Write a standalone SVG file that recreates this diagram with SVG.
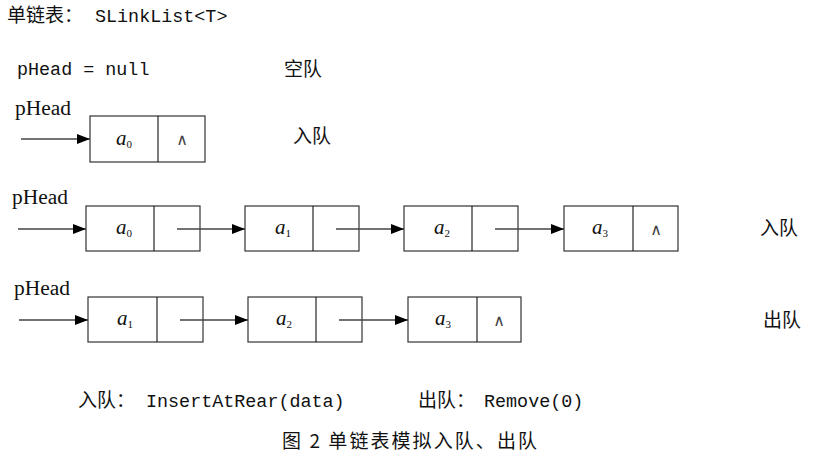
<svg xmlns="http://www.w3.org/2000/svg" width="840" height="459" viewBox="0 0 840 459">
<style>
.cjk{font-family:"Noto Sans CJK SC",sans-serif;font-size:19px;fill:#111}
.mono{font-family:"Liberation Mono","Noto Sans CJK SC",monospace;font-size:18.4px;fill:#111}
.ph{font-family:"Liberation Serif",serif;font-size:20px;fill:#111}
.box{fill:#fff;stroke:#333;stroke-width:1.2}
.div{stroke:#111;stroke-width:1.1}
.lbl{font-family:"Liberation Serif",serif;font-style:italic;font-size:21px;fill:#111}
.sub{font-size:11px;font-style:normal}
.nil{font-family:"DejaVu Sans",sans-serif;font-size:16px;fill:#444}
.conn{stroke:#444;stroke-width:1.4;fill:none}
</style>
<defs>
<marker id="ah" markerUnits="userSpaceOnUse" markerWidth="13" markerHeight="10" refX="13" refY="5" orient="auto">
<path d="M0,0 L13,5 L0,10 z" fill="#000"/>
</marker>
</defs>
<rect width="840" height="459" fill="#fff"/>

<g id="titles">
<text x="7" y="22"><tspan class="cjk">单链表：</tspan><tspan class="mono" x="95">SLinkList&lt;T&gt;</tspan></text>
<text class="mono" x="17" y="75">pHead = null</text>
<text class="cjk" x="284" y="76">空队</text>
<text class="cjk" x="293" y="143">入队</text>
<text class="cjk" x="760" y="235">入队</text>
<text class="cjk" x="763" y="327">出队</text>
<text x="78" y="407"><tspan class="cjk">入队：</tspan><tspan class="mono" x="146">InsertAtRear(data)</tspan></text>
<text x="418" y="407"><tspan class="cjk">出队：</tspan><tspan class="mono" x="484">Remove(0)</tspan></text>
<text class="cjk" x="282" y="448" font-size="18" textLength="255" lengthAdjust="spacing">图 2 单链表模拟入队、出队</text>
</g>

<g id="heads">
<text class="ph" x="15" y="115" textLength="56" lengthAdjust="spacingAndGlyphs">pHead</text>
<text class="ph" x="12" y="204" textLength="56" lengthAdjust="spacingAndGlyphs">pHead</text>
<text class="ph" x="14" y="295" textLength="56" lengthAdjust="spacingAndGlyphs">pHead</text>
</g>

<g id="row1-a0">
<rect class="box" x="90" y="116" width="115" height="46"/>
<line class="div" x1="158" y1="116" x2="158" y2="162"/>
<text class="lbl" x="124" y="145" text-anchor="middle">a<tspan class="sub" dy="3">0</tspan></text>
<text class="nil" x="182" y="145" text-anchor="middle">∧</text>
</g>

<g id="row2-a0">
<rect class="box" x="86" y="206" width="114" height="45"/>
<line class="div" x1="154" y1="206" x2="154" y2="251"/>
<text class="lbl" x="124" y="234" text-anchor="middle">a<tspan class="sub" dy="3">0</tspan></text>
</g>
<g id="row2-a1">
<rect class="box" x="245" y="206" width="114" height="45"/>
<line class="div" x1="313" y1="206" x2="313" y2="251"/>
<text class="lbl" x="283" y="234" text-anchor="middle">a<tspan class="sub" dy="3">1</tspan></text>
</g>
<g id="row2-a2">
<rect class="box" x="404" y="206" width="114" height="45"/>
<line class="div" x1="472" y1="206" x2="472" y2="251"/>
<text class="lbl" x="442" y="234" text-anchor="middle">a<tspan class="sub" dy="3">2</tspan></text>
</g>
<g id="row2-a3">
<rect class="box" x="564" y="206" width="114" height="45"/>
<line class="div" x1="633" y1="206" x2="633" y2="251"/>
<text class="lbl" x="600" y="234" text-anchor="middle">a<tspan class="sub" dy="3">3</tspan></text>
<text class="nil" x="656" y="235" text-anchor="middle">∧</text>
</g>

<g id="row3-a1">
<rect class="box" x="88" y="297" width="115" height="45"/>
<line class="div" x1="157" y1="297" x2="157" y2="342"/>
<text class="lbl" x="125" y="325" text-anchor="middle">a<tspan class="sub" dy="3">1</tspan></text>
</g>
<g id="row3-a2">
<rect class="box" x="248" y="297" width="114" height="45"/>
<line class="div" x1="316" y1="297" x2="316" y2="342"/>
<text class="lbl" x="284" y="325" text-anchor="middle">a<tspan class="sub" dy="3">2</tspan></text>
</g>
<g id="row3-a3">
<rect class="box" x="408" y="297" width="113" height="45"/>
<line class="div" x1="477" y1="297" x2="477" y2="342"/>
<text class="lbl" x="443" y="325" text-anchor="middle">a<tspan class="sub" dy="3">3</tspan></text>
<text class="nil" x="499" y="326" text-anchor="middle">∧</text>
</g>

<g id="connectors">
<line class="conn" x1="21" y1="139" x2="90" y2="139" marker-end="url(#ah)"/>
<line class="conn" x1="18" y1="229" x2="86" y2="229" marker-end="url(#ah)"/>
<line class="conn" x1="177" y1="229" x2="245" y2="229" marker-end="url(#ah)"/>
<line class="conn" x1="336" y1="229" x2="404" y2="229" marker-end="url(#ah)"/>
<line class="conn" x1="495" y1="229" x2="564" y2="229" marker-end="url(#ah)"/>
<line class="conn" x1="19" y1="320" x2="88" y2="320" marker-end="url(#ah)"/>
<line class="conn" x1="180" y1="320" x2="248" y2="320" marker-end="url(#ah)"/>
<line class="conn" x1="339" y1="320" x2="408" y2="320" marker-end="url(#ah)"/>
</g>
</svg>
